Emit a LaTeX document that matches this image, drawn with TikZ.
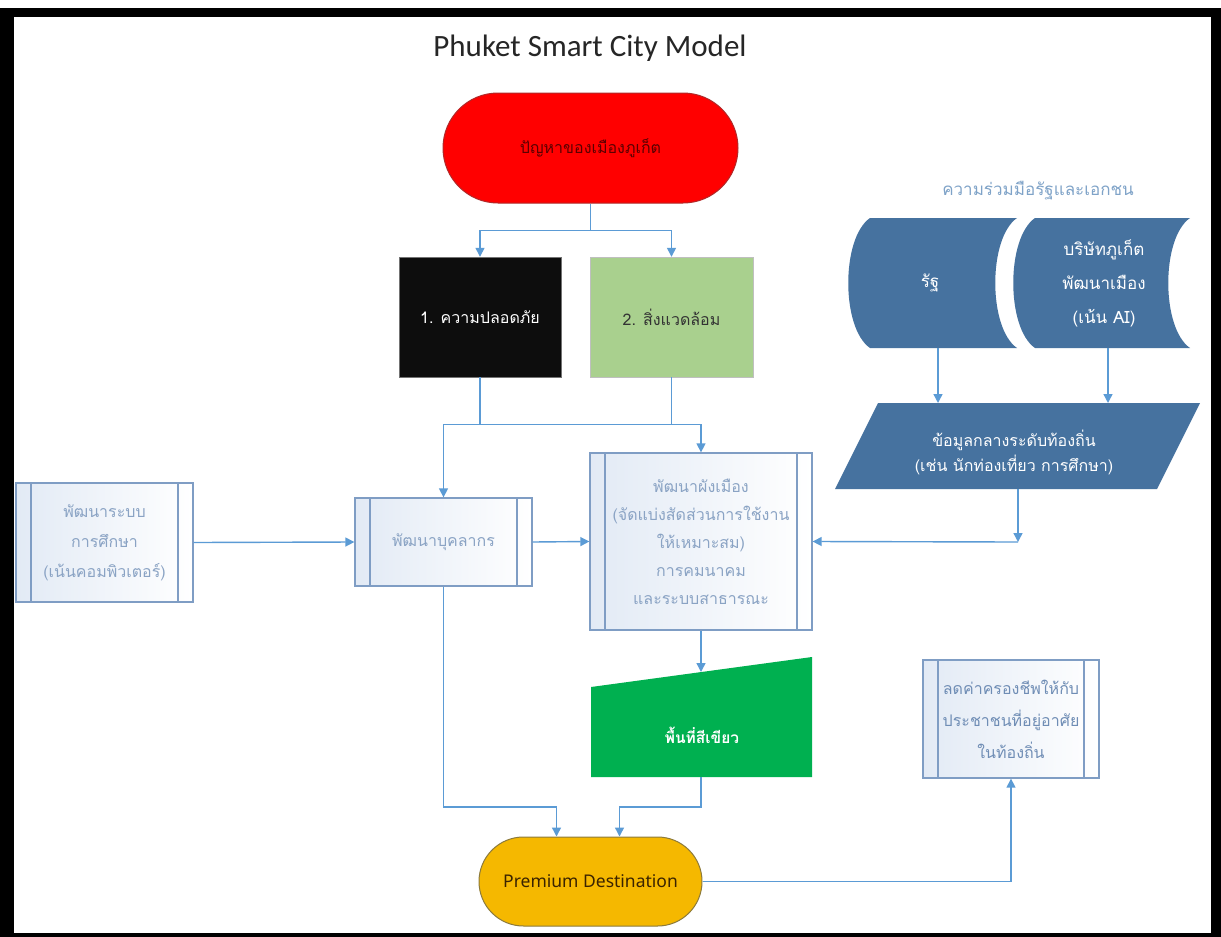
\documentclass[tikz,border=0pt]{standalone}
\usepackage{fontspec}
\setmainfont{Carlito}
\newfontfamily\thai[Script=Thai]{Loma}
\newfontfamily\uisans{Noto Sans}
\usetikzlibrary{arrows.meta}

\definecolor{conn}{HTML}{5B9BD5}
\definecolor{procline}{HTML}{7F9DC4}
\definecolor{procfill}{HTML}{E2EAF5}
\definecolor{proctext}{HTML}{8AA3C4}
\definecolor{proctextdark}{HTML}{6F8DB5}
\definecolor{datablue}{HTML}{46729F}
\definecolor{labelblue}{HTML}{7FA3C8}
\definecolor{envgreen}{HTML}{A9D08E}
\definecolor{greenarea}{HTML}{00B050}
\definecolor{gold}{HTML}{F5B800}
\definecolor{goldline}{HTML}{8C7A3C}
\definecolor{goldtext}{HTML}{3A2300}
\definecolor{redline}{HTML}{B02828}
\definecolor{redtext}{HTML}{5A0000}

\begin{document}
\begin{tikzpicture}[x=1pt,y=-1pt,
  conn/.style={draw=conn, line width=1.4pt},
  arrow/.style={conn, -{Triangle[length=9pt,width=9pt]}},
  thaitext/.style={font=\thai\fontsize{16}{27}\selectfont, align=center},
  procbox/.style={draw=procline, line width=1.3pt, left color=procfill, right color=white,
    thaitext, text=proctext, inner sep=0pt,
    path picture={\draw[procline, line width=1.3pt]
      ([xshift=15pt]path picture bounding box.north west) -- ([xshift=15pt]path picture bounding box.south west)
      ([xshift=-15pt]path picture bounding box.north east) -- ([xshift=-15pt]path picture bounding box.south east);}},
  terminal/.style={draw, line width=1pt, inner sep=0pt}
]
% page and black frame
\useasboundingbox (0,0) rectangle (1221,937);
\fill[white] (0,0) rectangle (1221,937);
\fill[black] (0,8) rectangle (1221,937);
\fill[white] (14,17) rectangle (1211,933);

% title
\node[font=\fontsize{31}{34}\selectfont, text=black!85] (title) at (590,48) {Phuket Smart City Model};

% problem terminal
\node[terminal, draw=redline, fill=red, minimum width=295pt, minimum height=110pt,
  rounded corners=55pt, thaitext, text=redtext] (problem) at (590.5,148) {ปัญหาของเมืองภูเก็ต};

% the two issues
\node[draw=black!55, fill=black!95, minimum width=162pt, minimum height=120pt,
  thaitext, text=white] (safety) at (480,317) {1. ความปลอดภัย};
\node[draw=black!25, fill=envgreen, minimum width=163pt, minimum height=120pt,
  thaitext, text=black!80] (env) at (671.5,317) {2. สิ่งแวดล้อม};

% public-private cooperation
\node[thaitext, text=labelblue, font=\thai\fontsize{17}{20}\selectfont] (coop) at (1038,191) {ความร่วมมือรัฐและเอกชน};
\fill[datablue] (870,218) -- (1017,218) .. controls (988,238) and (988,328) .. (1017,348)
  -- (870,348) .. controls (841,328) and (841,238) .. (870,218) -- cycle;
\fill[datablue] (1035,218) -- (1190,218) .. controls (1161,238) and (1161,328) .. (1190,348)
  -- (1035,348) .. controls (1006,328) and (1006,238) .. (1035,218) -- cycle;
\node[thaitext, text=white, font=\thai\fontsize{17}{34}\selectfont] (state) at (930,283) {รัฐ};
\node[thaitext, text=white, font=\thai\fontsize{17}{34}\selectfont] (firm) at (1104,283) {บริษัทภูเก็ต\\พัฒนาเมือง\\(เน้น AI)};
\coordinate (stateBot) at (938,348);
\coordinate (firmBot) at (1108,348);

% local data parallelogram
\fill[datablue] (878,403) -- (1200,403) -- (1157,489) -- (835,489) -- cycle;
\node[thaitext, text=white, font=\thai\fontsize{16}{25}\selectfont] (data) at (1014,452)
  {ข้อมูลกลางระดับท้องถิ่น\\(เช่น นักท่องเที่ยว การศึกษา)};
\coordinate (dataIn1) at (938,403);
\coordinate (dataIn2) at (1108,403);
\coordinate (dataOut) at (1018,489);
\coordinate (dataJoin) at (1018,542);

% processes
\node[procbox, minimum width=177pt, minimum height=119pt, font=\thai\fontsize{16}{30}\selectfont]
  (edu) at (104.5,542.5) {พัฒนาระบบ\\การศึกษา\\(เน้นคอมพิวเตอร์)};
\node[procbox, minimum width=177pt, minimum height=88pt] (people) at (443.5,542) {พัฒนาบุคลากร};
\node[procbox, minimum width=222pt, minimum height=177pt, font=\thai\fontsize{16}{28}\selectfont]
  (plan) at (701,541.5) {พัฒนาผังเมือง\\(จัดแบ่งสัดส่วนการใช้งาน\\ให้เหมาะสม)\\การคมนาคม\\และระบบสาธารณะ};
\node[procbox, text=proctextdark, minimum width=176pt, minimum height=118pt, font=\thai\fontsize{16}{32}\selectfont]
  (cost) at (1011,719) {ลดค่าครองชีพให้กับ\\ประชาชนที่อยู่อาศัย\\ในท้องถิ่น};

% green area (manual input shape)
\fill[greenarea] (591,687) -- (812,657) -- (812,777) -- (591,777) -- cycle;
\node[thaitext, text=white, font=\thai\bfseries\fontsize{15.5}{20}\selectfont] (green) at (702,735) {พื้นที่สีเขียว};
\coordinate (greenTop) at (701,672);
\coordinate (greenBot) at (701,777);

% goal terminal
\node[terminal, draw=goldline, fill=gold, minimum width=223pt, minimum height=89pt,
  rounded corners=44.5pt, font=\uisans\fontsize{17.5}{20}\selectfont, text=goldtext] (premium) at (590.5,881.5) {Premium Destination};

% connectors
\draw[conn] (problem.south) -- ++(0,27) coordinate (split);
\draw[arrow] (split) -| (safety.north);
\draw[arrow] (split) -| (env.north);

\draw[conn] (safety.south) -- ++(0,47) coordinate (jb);
\draw[arrow] (jb) -| (people.north);
\draw[arrow] (jb) -| (plan.north);
\draw[conn] (env.south) -- (env.south |- jb);

\draw[arrow] (stateBot) -- (dataIn1);
\draw[arrow] (firmBot) -- (dataIn2);
\draw[arrow] (dataOut) -- (dataJoin);
\draw[arrow] (dataJoin) -- (plan.east);

\draw[arrow] (edu.east) -- (people.west);
\draw[arrow] (people.east) -- (plan.west);

\draw[arrow] (plan.south) -- (greenTop);
\draw[arrow] (greenBot) -- (701,807) -| ([xshift=29pt]premium.north);
\draw[arrow] (people.south) -- (443.5,807) -| ([xshift=-34pt]premium.north);
\draw[arrow] (premium.east) -| (cost.south);
\end{tikzpicture}
\end{document}
